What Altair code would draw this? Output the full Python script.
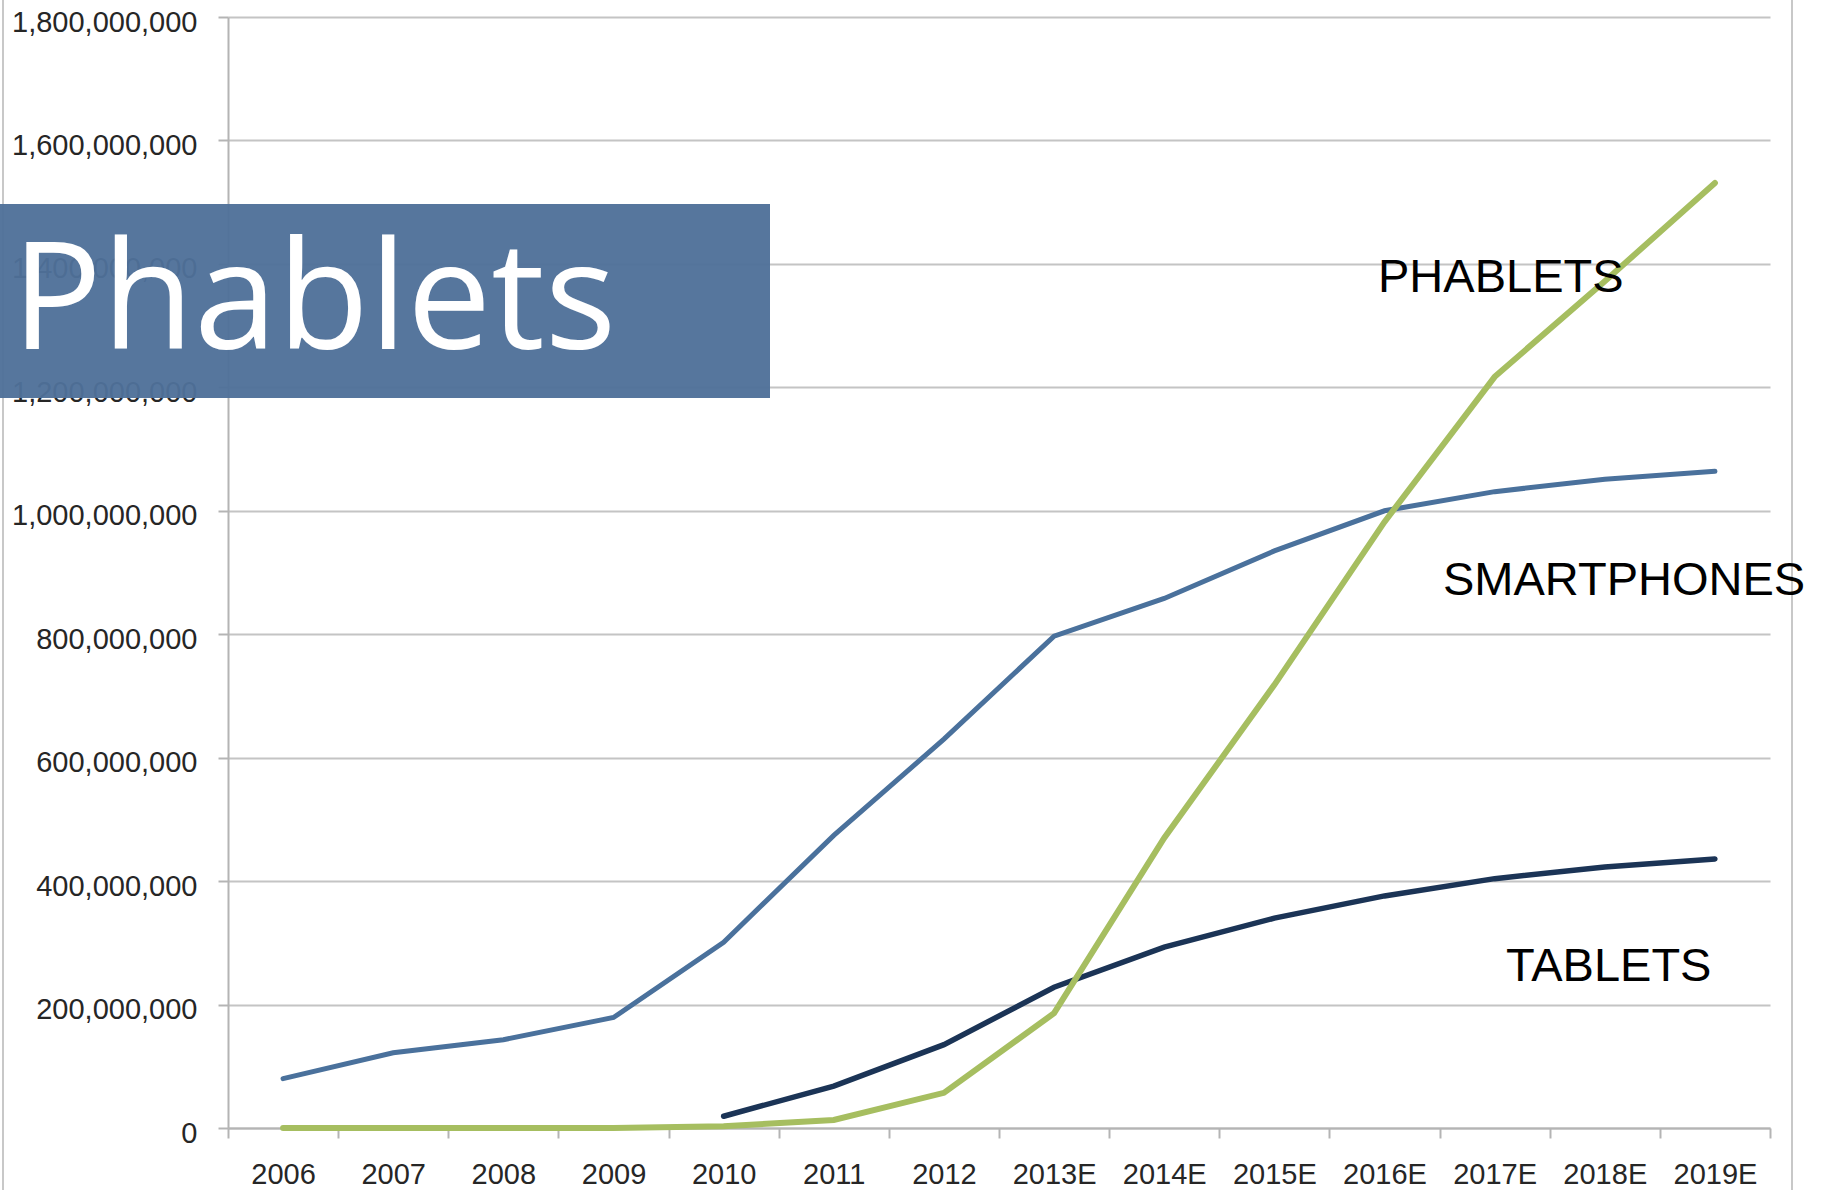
import altair as alt
import pandas as pd

# Shipments by year (units)
years = ["2006", "2007", "2008", "2009", "2010", "2011", "2012",
         "2013E", "2014E", "2015E", "2016E", "2017E", "2018E", "2019E"]
smartphones = [80e6, 122e6, 143e6, 179e6, 301e6, 474e6, 630e6,
               797e6, 858e6, 935e6, 1000e6, 1031e6, 1051e6, 1064e6]
tablets = [None, None, None, None, 19e6, 68e6, 135e6,
           228e6, 293e6, 340e6, 376e6, 404e6, 423e6, 436e6]
phablets = [0, 0, 0, 0, 3e6, 13e6, 57e6,
            186e6, 470e6, 718e6, 982e6, 1217e6, 1372e6, 1531e6]

series_names = ["Smartphones", "Tablets", "Phablets"]
series_colors = ["#4A719C", "#1B3456", "#A6BE60"]
y_ticks = [0, 200e6, 400e6, 600e6, 800e6, 1000e6, 1200e6, 1400e6, 1600e6, 1800e6]

rows = []
for name, vals in zip(series_names, [smartphones, tablets, phablets]):
    for yr, v in zip(years, vals):
        if v is not None:
            rows.append({"year": yr, "units": v, "series": name})
df = pd.DataFrame(rows)

W, H = 1542, 1111
LEFT, TOP = 228, 17

x_enc = alt.X(
    "year:N", sort=years, bandPosition=0.5,
    scale=alt.Scale(type="band", paddingInner=0, paddingOuter=0),
    axis=alt.Axis(title=None, labelAngle=0, tickBand="extent", tickSize=10,
                  labelPadding=22, grid=False),
)
y_enc = alt.Y(
    "units:Q",
    scale=alt.Scale(domain=[0, 1.8e9], nice=False),
    axis=alt.Axis(title=None, values=y_ticks, format=",d", tickSize=10,
                  labelPadding=21, labelOffset=5, labelLimit=400),
)

lines = alt.Chart(df).mark_line(strokeCap="round").encode(
    x=x_enc,
    y=y_enc,
    color=alt.Color("series:N", scale=alt.Scale(domain=series_names, range=series_colors), legend=None),
    strokeWidth=alt.StrokeWidth("series:N", scale=alt.Scale(domain=series_names, range=[5, 6, 3.5]), legend=None),
    order=alt.Order("year:N"),
)

one = pd.DataFrame({"k": [0]})

def label(text, x, y, size=47, color="black", font="Liberation Sans", align="left"):
    return alt.Chart(one).mark_text(
        text=text, fontSize=size, font=font, color=color, align=align, baseline="alphabetic"
    ).encode(x=alt.value(x), y=alt.value(y))

banner = alt.Chart(one).mark_rect(color="#4F7099", opacity=0.96).encode(
    x=alt.value(-LEFT), x2=alt.value(770 - LEFT),
    y=alt.value(204 - TOP), y2=alt.value(398 - TOP),
)
banner_text = label("Phablets", 314 - LEFT, 349 - TOP, size=150, color="white",
                    font="Open Sans", align="center")

frame_left = alt.Chart(one).mark_rule(color="#c8c8c8", strokeWidth=2).encode(
    x=alt.value(3 - LEFT), y=alt.value(-TOP), y2=alt.value(1190 - TOP))
frame_right = alt.Chart(one).mark_rule(color="#c8c8c8", strokeWidth=2).encode(
    x=alt.value(1792 - LEFT), y=alt.value(-TOP), y2=alt.value(1190 - TOP))

chart = alt.layer(
    lines,
    frame_left,
    frame_right,
    banner,
    banner_text,
    label("PHABLETS", 1378 - LEFT, 292 - TOP),
    label("SMARTPHONES", 1443 - LEFT, 595 - TOP),
    label("TABLETS", 1506 - LEFT, 981 - TOP),
).properties(
    width=W, height=H,
    padding={"left": LEFT, "top": TOP, "right": 1824 - LEFT - W, "bottom": 1190 - TOP - H},
    autosize=alt.AutoSizeParams(type="none"),
    background="white",
).configure_view(stroke=None).configure_axis(
    labelFont="Liberation Sans", labelFontSize=29, labelColor="#262626",
    domainColor="#b4b4b4", domainWidth=2, tickColor="#b4b4b4", tickWidth=2,
    gridColor="#c4c4c4", gridWidth=2,
)

chart.save("out.html", embed_options={"renderer": "svg", "actions": False})
